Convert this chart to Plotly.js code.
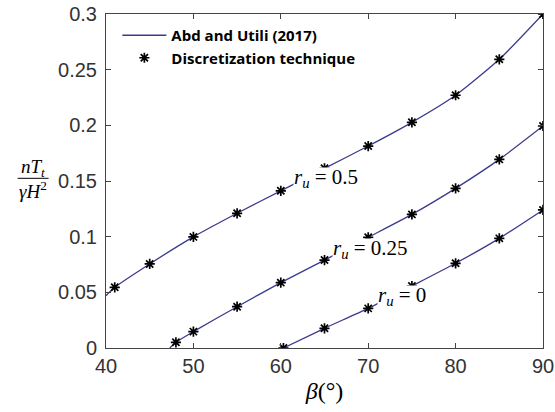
<!DOCTYPE html>
<html>
<head>
<meta charset="utf-8">
<script src="https://cdn.plot.ly/plotly-3.0.1.min.js"></script>
<style>html,body{margin:0;padding:0;background:#fff;}#chart{width:555px;height:412px;}</style>
</head>
<body>
<div id="chart"></div>
<script>
// Abd and Utili (2017) curves
const lineBeta05 = [40, 41, 45, 50, 55, 60, 65, 70, 75, 80, 85, 90];
const lineVal05  = [0.047, 0.0545, 0.0755, 0.0998, 0.121, 0.1412, 0.1614, 0.1814, 0.2027, 0.227, 0.2593, 0.300];
const lineBeta025 = [47.3, 48, 50, 55, 60, 65, 70, 75, 80, 85, 90];
const lineVal025  = [0.0, 0.0051, 0.0147, 0.0371, 0.0587, 0.079, 0.0994, 0.120, 0.1434, 0.1694, 0.1994];
const lineBeta0 = [60.3, 65, 70, 75, 80, 85, 90];
const lineVal0  = [0.0, 0.0177, 0.0356, 0.0557, 0.0761, 0.0985, 0.124];

// Discretization technique points
const ptBeta05 = [41, 45, 50, 55, 60, 65, 70, 75, 80, 85, 90];
const ptVal05  = [0.0545, 0.0755, 0.0998, 0.121, 0.1412, 0.1614, 0.1814, 0.2027, 0.227, 0.2593, 0.300];
const ptBeta025 = [48, 50, 55, 60, 65, 70, 75, 80, 85, 90];
const ptVal025  = [0.0051, 0.0147, 0.0371, 0.0587, 0.079, 0.0994, 0.120, 0.1434, 0.1694, 0.1994];
const ptBeta0 = [60.3, 65, 70, 75, 80, 85, 90];
const ptVal0  = [0.0, 0.0177, 0.0356, 0.0557, 0.0761, 0.0985, 0.124];

const xTickVals = [40, 50, 60, 70, 80, 90];
const xTickText = ["40", "50", "60", "70", "80", "90"];
const yTickVals = [0, 0.05, 0.1, 0.15, 0.2, 0.25, 0.3];
const yTickText = ["0", "0.05", "0.1", "0.15", "0.2", "0.25", "0.3"];

const curveLabels = ["<i>r<sub>u</sub></i> = 0.5", "<i>r<sub>u</sub></i> = 0.25", "<i>r<sub>u</sub></i> = 0"];
const curveLabelX = [61.45, 65.83, 70.97];
const curveLabelY = [0.1527, 0.0889, 0.0467];

const lineColor = "#3a3a90";
const lineSets = [[lineBeta05, lineVal05], [lineBeta025, lineVal025], [lineBeta0, lineVal0]];
const ptSets = [[ptBeta05, ptVal05], [ptBeta025, ptVal025], [ptBeta0, ptVal0]];

const traces = [];
lineSets.forEach((s, i) => {
  traces.push({
    x: s[0], y: s[1], type: 'scatter', mode: 'lines',
    line: {color: lineColor, width: 1.3, shape: 'spline', smoothing: 0.6},
    name: 'Abd and Utili (2017)', legendgroup: 'a', showlegend: i === 0,
    hoverinfo: 'skip'
  });
});
ptSets.forEach((s, i) => {
  traces.push({
    x: s[0], y: s[1], type: 'scatter', mode: 'markers',
    marker: {symbol: 'asterisk-open', size: 8.5, color: '#000', line: {color: '#111', width: 1.7}},
    name: 'Discretization technique', legendgroup: 'b', showlegend: i === 0,
    hoverinfo: 'skip'
  });
});

const W = 555, H = 412, L = 105.5, R = 543.3, T = 14, B = 348;
const px = v => (v - L) / (R - L);
const py = v => (B - v) / (B - T);

const annotations = curveLabels.map((t, i) => ({
  x: curveLabelX[i], y: curveLabelY[i], xref: 'x', yref: 'y',
  text: t, showarrow: false, xanchor: 'left', yanchor: 'middle',
  bgcolor: 'rgba(255,255,255,1)', borderpad: 0, height: 20,
  font: {family: 'Liberation Serif', size: 21, color: '#000'}
}));
annotations.push({
  x: px(32.5), y: py(168), xref: 'paper', yref: 'paper',
  text: '<i>nT<sub>t</sub></i>', showarrow: false, xanchor: 'center', yanchor: 'middle',
  borderpad: 0,
  font: {family: 'Liberation Serif', size: 19, color: '#000'}
});
annotations.push({
  x: px(32.5), y: py(190), xref: 'paper', yref: 'paper',
  text: '<i>γH</i><sup>2</sup>', showarrow: false, xanchor: 'center', yanchor: 'middle',
  borderpad: 0,
  font: {family: 'Liberation Serif', size: 19, color: '#000'}
});

const layout = {
  width: W, height: H,
  margin: {l: L, r: W - R, t: T, b: H - B, pad: 0},
  paper_bgcolor: '#fff', plot_bgcolor: '#fff',
  showlegend: true,
  legend: {
    x: 0.026, y: 0.985, xanchor: 'left', yanchor: 'top',
    bgcolor: 'rgba(255,255,255,0)', borderwidth: 0,
    font: {family: 'Open Sans', size: 15, color: '#000', weight: 700},
    tracegroupgap: 0, itemwidth: 44
  },
  xaxis: {
    range: [40, 90], tickvals: xTickVals, ticktext: xTickText,
    ticks: 'inside', ticklen: 5, tickcolor: '#444', tickwidth: 1,
    showline: true, linecolor: '#444', linewidth: 1, mirror: 'ticks',
    showgrid: false, zeroline: false,
    tickfont: {family: 'Liberation Sans', size: 20, color: '#333'},
    title: {text: '<i>β</i>(°)', font: {family: 'Liberation Serif', size: 24, color: '#000'}, standoff: 6}
  },
  yaxis: {
    range: [0, 0.3], tickvals: yTickVals, ticktext: yTickText,
    ticks: 'inside', ticklen: 5, tickcolor: '#444', tickwidth: 1,
    showline: true, linecolor: '#444', linewidth: 1, mirror: 'ticks',
    showgrid: false, zeroline: false,
    ticklabelstandoff: 4,
    tickfont: {family: 'Liberation Sans', size: 20, color: '#333'}
  },
  shapes: [{
    type: 'line', xref: 'paper', yref: 'paper',
    x0: px(17), x1: px(48), y0: py(178.3), y1: py(178.3),
    line: {color: '#000', width: 1}
  }],
  annotations: annotations
};

Plotly.newPlot('chart', traces, layout, {staticPlot: true, displayModeBar: false});
</script>
</body>
</html>
